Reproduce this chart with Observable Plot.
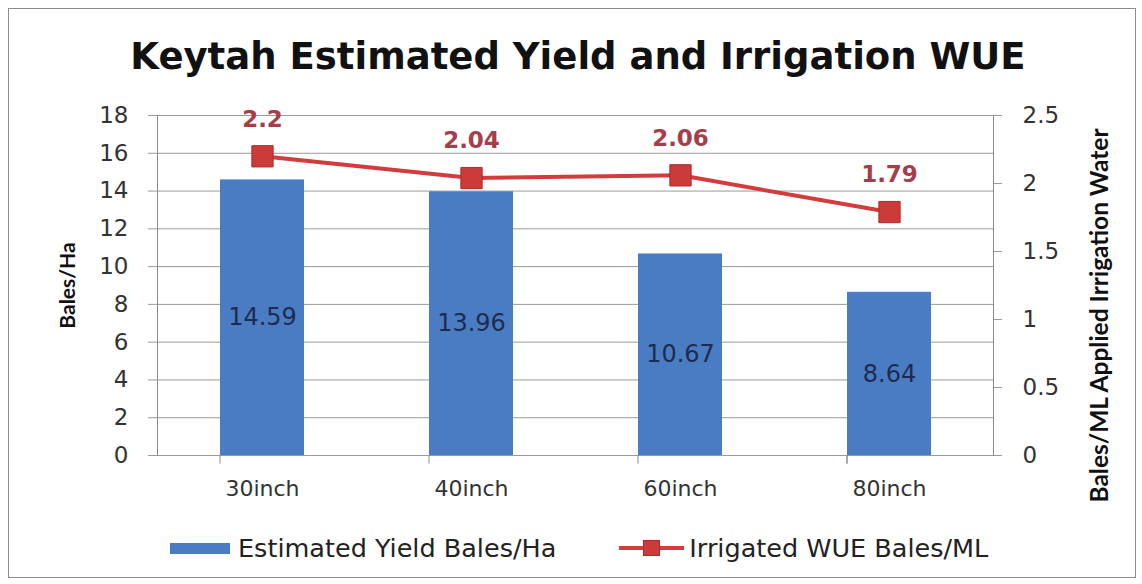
<!DOCTYPE html>
<html><head><meta charset="utf-8">
<script src="https://cdn.jsdelivr.net/npm/d3@7"></script>
<script src="https://cdn.jsdelivr.net/npm/@observablehq/plot@0.6"></script>
<style>
body{margin:0;background:#fff;}
#wrap{position:relative;width:1142px;height:584px;overflow:hidden;background:#fff;}
#frame{position:absolute;left:8px;top:8px;width:1128px;height:570px;border:1.5px solid #8c8c8c;box-sizing:border-box;}
#title{position:absolute;left:7px;width:1142px;top:35px;text-align:center;font:bold 37px "DejaVu Sans";color:#111;white-space:nowrap;}
#chart{position:absolute;left:0;top:0;}
#legend{position:absolute;top:533px;left:170px;height:30px;display:flex;align-items:center;font:25.5px "DejaVu Sans";color:#222;white-space:nowrap;}
.sw-bar{width:60px;height:11px;background:#4a7cc4;margin-right:8px;}
.sw-line{position:relative;width:65px;height:20px;margin-right:5px;margin-left:63px;}
.sw-line .l{position:absolute;left:0;right:0;top:8px;height:4px;background:#d23c3c;}
.sw-line .m{position:absolute;left:24px;top:2px;width:17px;height:16px;background:#cc3a3a;border:1px solid #a82c2c;box-sizing:border-box;}
</style>
</head><body>
<div id="wrap">
  <div id="frame"></div>
  <div id="chart"></div>
  <div id="title">Keytah Estimated Yield and Irrigation WUE</div>
  <div id="legend">
    <div class="sw-bar"></div><span id="lg1"></span>
    <div class="sw-line"><div class="l"></div><div class="m"></div></div><span id="lg2"></span>
  </div>
</div>
<script>
const categories = ["30inch", "40inch", "60inch", "80inch"];
const yieldValues = [14.59, 13.96, 10.67, 8.64];
const wueValues = [2.2, 2.04, 2.06, 1.79];
const leftTicks = [0, 2, 4, 6, 8, 10, 12, 14, 16, 18];
const rightTicks = [0, 0.5, 1, 1.5, 2, 2.5];
const seriesNames = ["Estimated Yield Bales/Ha", "Irrigated WUE Bales/ML"];
const axisTitles = ["Bales/Ha", "Bales/ML Applied Irrigation Water"];

document.getElementById("lg1").textContent = seriesNames[0];
document.getElementById("lg2").textContent = seriesNames[1];

const k = 18 / 2.5; // right axis -> left axis units
const data = categories.map((c, i) => ({cat: c, yield: yieldValues[i], wue: wueValues[i]}));
const step = 209, half = step / 2;
const bounds = categories.map((c) => ({cat: c, dx: -half})).concat([{cat: categories[categories.length - 1], dx: half}]);

const chart = Plot.plot({
  width: 1142,
  height: 584,
  marginLeft: 157,
  marginRight: 149,
  marginTop: 115,
  marginBottom: 129,
  style: {fontFamily: "DejaVu Sans", fontSize: "20px", color: "#333", background: "transparent"},
  x: {domain: categories, paddingInner: 0.6, paddingOuter: 0.3, label: null},
  y: {domain: [0, 18], label: null},
  marks: [
    Plot.gridY(leftTicks, {stroke: "#9a9a9a", strokeOpacity: 1, strokeWidth: 1}),
    Plot.axisY(leftTicks, {anchor: "left", tickSize: 9, tickPadding: 20, stroke: "#9a9a9a", label: null, fontSize: 23, fill: "#333"}),
    Plot.axisY(rightTicks.map(v => v * k), {anchor: "right", tickSize: 8, tickPadding: 21, stroke: "#9a9a9a", label: null, fontSize: 23, fill: "#333", tickFormat: v => String(+(v / k).toFixed(2))}),
    Plot.axisX({tickSize: 0, tickPadding: 25, label: null, fontSize: 22, fill: "#333"}),
    Plot.frame({anchor: "left", stroke: "#8a8a8a"}),
    Plot.frame({anchor: "right", stroke: "#8a8a8a"}),
    Plot.ruleX(bounds, {x: "cat", dx: d => d.dx, y1: 0, y2: -0.45, stroke: "#8a8a8a"}),
    Plot.barY(data, {x: "cat", y: "yield", fill: "#4a7cc4"}),
    Plot.text(data, {x: "cat", y: d => d.yield / 2, text: d => d.yield.toFixed(2), fill: "#1d2c4e", fontSize: 24}),
    Plot.line(data, {x: "cat", y: d => d.wue * k, stroke: "#d23c3c", strokeWidth: 4}),
    Plot.dot(data, {x: "cat", y: d => d.wue * k, symbol: "square", r: 12, fill: "#cc3a3a", stroke: "#a82c2c", strokeWidth: 1}),
    Plot.text(data, {x: "cat", y: d => d.wue * k, text: d => String(d.wue), dy: -37, fill: "#a63d4a", fontWeight: "bold", fontSize: 23}),
    Plot.text([axisTitles[0]], {frameAnchor: "left", textAnchor: "middle", dx: -89, rotate: -90, fontFamily: "Lato", fontWeight: "bold", fontSize: 21, fill: "#111"}),
    Plot.text([axisTitles[1]], {frameAnchor: "right", textAnchor: "middle", dx: 107, dy: 30, rotate: -90, fontFamily: "Lato", fontWeight: "bold", fontSize: 24.5, fill: "#111"})
  ]
});
document.getElementById("chart").appendChild(chart);
</script>
</body></html>
